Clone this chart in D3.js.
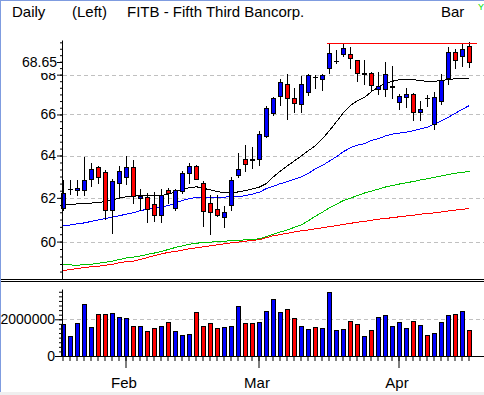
<!DOCTYPE html>
<html>
<head>
<meta charset="utf-8">
<title>FITB - Fifth Third Bancorp.</title>
<script src="https://d3js.org/d3.v7.min.js"></script>
<style>
    body { margin: 0; background: #fff; }
    svg { display: block; font-family: "Liberation Sans", Arial, sans-serif; }
</style>
</head>
<body>
<svg width="484" height="395"></svg>
<script>
    // daily OHLC, one entry per trading day
    var openP = [61.53, 62.40, 62.35, 62.35, 62.88, 63.44, 63.21, 61.42, 62.70, 62.98,
        63.46, 61.98, 62.05, 61.73, 61.22, 62.35, 61.53, 62.31, 63.16, 63.50,
        62.70, 61.77, 61.49, 61.10, 61.66, 63.05, 63.81, 63.81, 63.81, 64.94,
        66.08, 66.93, 67.50, 66.80, 66.50, 67.10, 67.90, 67.80, 68.36, 68.69,
        69.07, 69.07, 68.73, 68.05, 68.07, 67.29, 67.29, 67.39, 66.64, 66.88,
        67.00, 66.13, 66.83, 65.51, 66.68, 67.84, 69.19, 68.97, 69.49];
    var highP = [62.85, 62.82, 62.85, 63.91, 63.66, 63.50, 63.32, 62.88, 63.50, 63.97,
        63.80, 62.40, 62.23, 62.25, 62.39, 62.47, 62.42, 63.24, 63.66, 63.55,
        62.77, 62.15, 62.13, 61.64, 63.00, 64.10, 64.50, 64.42, 65.19, 66.43,
        66.88, 67.77, 68.05, 67.30, 67.93, 68.05, 67.97, 68.05, 69.62, 69.29,
        69.60, 69.42, 68.75, 68.73, 68.13, 68.13, 68.63, 68.44, 67.02, 67.30,
        67.07, 66.67, 66.97, 67.10, 68.05, 69.44, 69.33, 69.61, 69.70];
    var lowP = [61.46, 62.20, 62.15, 62.15, 62.54, 62.70, 61.02, 60.37, 62.00, 62.65,
        61.77, 61.46, 60.91, 60.95, 60.91, 61.77, 61.43, 62.23, 62.70, 62.86,
        60.71, 60.34, 61.14, 60.68, 61.46, 63.00, 63.24, 63.40, 63.55, 64.89,
        65.97, 66.47, 65.80, 66.13, 66.10, 66.97, 67.30, 67.22, 68.07, 68.61,
        68.95, 68.35, 67.69, 67.52, 67.22, 67.02, 66.92, 66.82, 66.27, 66.35,
        65.71, 65.72, 66.42, 65.28, 66.52, 67.55, 68.34, 68.44, 68.39];
    var closeP = [62.23, 62.41, 62.47, 62.85, 63.35, 62.98, 61.42, 62.80, 63.27, 63.46,
        62.09, 62.08, 61.49, 61.22, 62.15, 62.23, 62.35, 63.16, 63.50, 62.88,
        61.38, 61.33, 61.21, 61.35, 62.85, 63.36, 63.58, 63.80, 65.02, 66.30,
        66.80, 67.63, 66.83, 66.55, 67.55, 68.00, 67.89, 67.97, 69.12, 68.70,
        69.39, 68.86, 68.10, 68.06, 67.48, 67.42, 68.05, 67.40, 66.92, 67.00,
        66.13, 66.27, 66.82, 66.85, 67.72, 69.19, 68.77, 69.33, 68.65];
    var volume = [1740000, 1090000, 1800000, 2830000, 1580000, 2290000, 2290000, 2340000, 2110000, 2050000,
        1630000, 1630000, 1360000, 1530000, 1630000, 1850000, 1360000, 1140000, 1200000, 2400000,
        1630000, 1800000, 1530000, 1580000, 1630000, 2720000, 1800000, 1800000, 1850000, 2450000,
        3110000, 2400000, 2560000, 2070000, 1630000, 1470000, 1580000, 1530000, 3490000, 1420000,
        1470000, 1910000, 1740000, 1090000, 1420000, 2130000, 2230000, 1630000, 1850000, 1530000,
        1910000, 1690000, 1140000, 1250000, 1850000, 2230000, 2290000, 2450000, 1420000];

    // moving averages
    var maBlack = [61.71, 61.73, 61.74, 61.76, 61.78, 61.81, 61.85, 61.92, 62.01, 62.08,
        62.11, 62.11, 62.11, 62.11, 62.13, 62.20, 62.31, 62.41, 62.50, 62.54,
        62.47, 62.39, 62.31, 62.27, 62.27, 62.30, 62.36, 62.44, 62.53, 62.69,
        63.01, 63.29, 63.53, 63.77, 64.01, 64.26, 64.50, 64.84, 65.23, 65.67,
        66.12, 66.47, 66.72, 66.87, 67.17, 67.39, 67.59, 67.69, 67.77, 67.80,
        67.77, 67.72, 67.68, 67.69, 67.73, 67.78, 67.82, 67.83, 67.84];
    var maBlue = [60.73, 60.78, 60.83, 60.87, 60.94, 61.01, 61.07, 61.13, 61.20, 61.27,
        61.34, 61.43, 61.50, 61.53, 61.60, 61.67, 61.78, 61.90, 61.99, 62.04,
        62.05, 62.05, 62.05, 62.06, 62.07, 62.08, 62.13, 62.20, 62.29, 62.46,
        62.57, 62.69, 62.78, 62.90, 63.01, 63.18, 63.39, 63.55, 63.76, 63.97,
        64.21, 64.40, 64.52, 64.60, 64.75, 64.84, 64.97, 65.06, 65.11, 65.16,
        65.23, 65.31, 65.40, 65.55, 65.72, 65.89, 66.09, 66.29, 66.47];
    var maGreen = [59.00, 58.98, 58.97, 58.99, 59.01, 59.06, 59.10, 59.15, 59.22, 59.29,
        59.33, 59.38, 59.45, 59.51, 59.58, 59.67, 59.76, 59.83, 59.90, 59.95,
        59.98, 60.00, 60.02, 60.04, 60.06, 60.08, 60.10, 60.12, 60.15, 60.25,
        60.36, 60.46, 60.55, 60.67, 60.78, 60.97, 61.18, 61.36, 61.57, 61.73,
        61.90, 62.01, 62.13, 62.25, 62.34, 62.43, 62.53, 62.60, 62.67, 62.73,
        62.79, 62.86, 62.92, 62.99, 63.05, 63.12, 63.18, 63.22, 63.27];
    var maRed = [58.73, 58.78, 58.82, 58.87, 58.90, 58.92, 58.97, 59.01, 59.08, 59.13,
        59.15, 59.22, 59.31, 59.40, 59.47, 59.54, 59.58, 59.64, 59.70, 59.74,
        59.79, 59.83, 59.88, 59.92, 59.97, 60.00, 60.04, 60.08, 60.11, 60.20,
        60.29, 60.34, 60.40, 60.46, 60.51, 60.55, 60.60, 60.65, 60.70, 60.74,
        60.80, 60.85, 60.90, 60.94, 60.99, 61.04, 61.07, 61.11, 61.15, 61.19,
        61.22, 61.27, 61.30, 61.33, 61.37, 61.42, 61.46, 61.49, 61.53];

    var monthLabels = ["Feb", "Mar", "Apr"];
    var monthStart = [9, 28, 48];
    var priceTicks = [60, 62, 64, 66, 68];
    var volumeTicks = [0, 2000000];
    var lastClose = 68.65;
    var highLine = 69.65, highLineStart = 38;

    var days = openP.map(function (d, i) { return i; });

    var svg = d3.select("svg");

    var x = d3.scaleBand().domain(days).range([59.5, 472.5]);
    var y = d3.scaleLog().domain([58.34, 69.79]).range([279, 40]);
    var yv = d3.scaleLinear().domain([0, 3650000]).range([356, 289]);

    function cx(i) { return Math.round(x(i) + x.bandwidth() / 2); }
    function py(v) { return Math.round(y(v)); }
    function up(i) { return closeP[i] >= openP[i]; }

    // frame
    svg.append("line").attr("x1", 0).attr("x2", 484).attr("y1", 0.5).attr("y2", 0.5).attr("stroke", "#7f9ce0");
    svg.append("line").attr("x1", 0.5).attr("x2", 0.5).attr("y1", 0).attr("y2", 392).attr("stroke", "#7f9ce0");
    svg.append("rect").attr("x", 0).attr("y", 392).attr("width", 484).attr("height", 3).attr("fill", "#efefef");

    // header
    var header = svg.append("g").attr("font-size", 15).attr("fill", "#000");
    header.append("text").attr("x", 12).attr("y", 16.5).text("Daily");
    header.append("text").attr("x", 72).attr("y", 16.5).text("(Left)");
    header.append("text").attr("x", 127).attr("y", 16.5).text("FITB - Fifth Third Bancorp.");
    header.append("text").attr("x", 441).attr("y", 16.5).text("Bar");
    svg.append("text").attr("x", 478).attr("y", 10).attr("font-size", 9).attr("fill", "#00dd00").text("Y");

    // grid lines
    svg.append("g").selectAll("line")
        .data(priceTicks)
        .enter().append("line")
        .attr("x1", 63).attr("x2", 484)
        .attr("y1", function (d) { return py(d) + 0.5; })
        .attr("y2", function (d) { return py(d) + 0.5; })
        .attr("stroke", "#c0c0c0")
        .attr("stroke-dasharray", "4,3");

    svg.append("g").selectAll("line")
        .data(volumeTicks.slice(1))
        .enter().append("line")
        .attr("x1", 63).attr("x2", 484)
        .attr("y1", function (d) { return Math.round(yv(d)) + 0.5; })
        .attr("y2", function (d) { return Math.round(yv(d)) + 0.5; })
        .attr("stroke", "#c0c0c0")
        .attr("stroke-dasharray", "4,3");

    // moving averages
    var line = d3.line()
        .x(function (d, i) { return x(i) + x.bandwidth() / 2 + 0.5; })
        .y(function (d) { return y(d) + 0.5; });

    [[maRed, "#ff0000"], [maGreen, "#00c000"], [maBlue, "#0000ff"], [maBlack, "#000000"]].forEach(function (s) {
        svg.append("path")
            .datum(s[0])
            .attr("d", line)
            .attr("fill", "none")
            .attr("stroke", s[1])
            .attr("stroke-width", 1)
            .attr("shape-rendering", "crispEdges");
    });

    // candles
    var candles = svg.append("g").selectAll("g")
        .data(days)
        .enter().append("g");

    candles.append("line")
        .attr("x1", function (d) { return cx(d) + 0.5; })
        .attr("x2", function (d) { return cx(d) + 0.5; })
        .attr("y1", function (d) { return py(highP[d]); })
        .attr("y2", function (d) { return py(lowP[d]) + 1; })
        .attr("stroke", "#000");

    candles.filter(function (d) { return Math.abs(py(openP[d]) - py(closeP[d])) >= 1; })
        .append("rect")
        .attr("x", function (d) { return cx(d) - 1.5; })
        .attr("width", 4)
        .attr("y", function (d) { return py(Math.max(openP[d], closeP[d])) + 0.5; })
        .attr("height", function (d) { return py(Math.min(openP[d], closeP[d])) - py(Math.max(openP[d], closeP[d])); })
        .attr("fill", function (d) { return up(d) ? "#0000ff" : "#ff0000"; })
        .attr("stroke", "#000");

    candles.filter(function (d) { return Math.abs(py(openP[d]) - py(closeP[d])) < 1; })
        .append("line")
        .attr("x1", function (d) { return cx(d) - 2; })
        .attr("x2", function (d) { return cx(d) + 3; })
        .attr("y1", function (d) { return py(closeP[d]) + 0.5; })
        .attr("y2", function (d) { return py(closeP[d]) + 0.5; })
        .attr("stroke", "#000");

    // period high line
    svg.append("rect")
        .attr("x", cx(highLineStart) - 2)
        .attr("width", 477 - (cx(highLineStart) - 2))
        .attr("y", py(highLine))
        .attr("height", 1)
        .attr("fill", "#ff0000");

    // volume bars
    svg.append("g").selectAll("rect")
        .data(days)
        .enter().append("rect")
        .attr("x", function (d) { return cx(d) - 1.5; })
        .attr("width", 4)
        .attr("y", function (d) { return Math.round(yv(volume[d])) + 0.5; })
        .attr("height", function (d) { return 356 - Math.round(yv(volume[d])); })
        .attr("fill", function (d) { return up(d) ? "#0000ff" : "#ff0000"; })
        .attr("stroke", "#000");

    // price axis
    svg.append("g")
        .attr("transform", "translate(62,0)")
        .call(d3.axisLeft(y).tickValues(priceTicks).tickSize(5).tickSizeOuter(0).tickPadding(1).tickFormat(d3.format("d")))
        .attr("font-size", 14)
        .attr("font-family", null);

    svg.append("g")
        .attr("transform", "translate(62,0)")
        .call(d3.axisLeft(y).tickValues(d3.range(176, 210).map(function (k) { return k / 3; })).tickSize(2).tickFormat(""))
        .select(".domain").remove();

    // last close label sits over the 68 label
    var last = svg.append("g");
    last.append("rect")
        .attr("x", 14).attr("width", 44)
        .attr("y", py(lastClose) - 9).attr("height", 20)
        .attr("fill", "#fff");
    last.append("line")
        .attr("x1", 57).attr("x2", 62)
        .attr("y1", py(lastClose) + 0.5).attr("y2", py(lastClose) + 0.5)
        .attr("stroke", "#000");
    last.append("text")
        .attr("x", 57).attr("y", py(lastClose) + 0.5)
        .attr("dy", "0.32em")
        .attr("text-anchor", "end")
        .attr("font-size", 14)
        .text(d3.format(".2f")(lastClose));

    // volume axis
    svg.append("g")
        .attr("transform", "translate(62,0)")
        .call(d3.axisLeft(yv).tickValues(volumeTicks).tickSize(7).tickSizeOuter(0).tickPadding(0).tickFormat(d3.format("d")))
        .attr("font-size", 14)
        .attr("font-family", null);

    svg.append("g")
        .attr("transform", "translate(62,0)")
        .call(d3.axisLeft(yv).tickValues(d3.range(0, 3650001, 250000)).tickSize(3).tickFormat(""))
        .select(".domain").remove();

    // separator
    [279.5, 281.5].forEach(function (v) {
        svg.append("line").attr("x1", 1).attr("x2", 484).attr("y1", v).attr("y2", v).attr("stroke", "#000");
    });

    // time axis
    svg.append("line").attr("x1", 62).attr("x2", 484).attr("y1", 356.5).attr("y2", 356.5).attr("stroke", "#000");

    svg.append("g")
        .attr("transform", "translate(0,356)")
        .call(d3.axisBottom(x).tickSize(5).tickFormat(""))
        .select(".domain").remove();

    svg.append("g")
        .attr("transform", "translate(0,356)")
        .call(d3.axisBottom(x).tickValues(monthStart).tickSize(12).tickFormat(""))
        .select(".domain").remove();

    svg.append("g").selectAll("text")
        .data(monthStart)
        .enter().append("text")
        .attr("x", function (d) { return cx(d) - 2; })
        .attr("y", 388)
        .attr("text-anchor", "middle")
        .attr("font-size", 15)
        .text(function (d, i) { return monthLabels[i]; });
</script>
</body>
</html>
